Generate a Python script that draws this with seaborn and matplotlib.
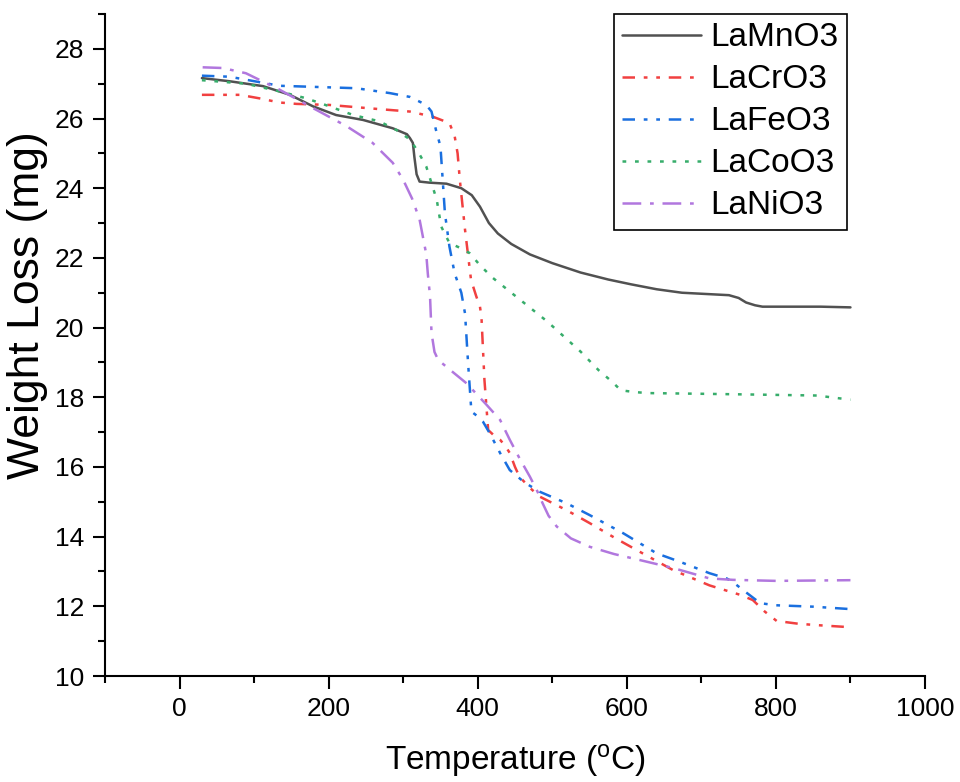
import matplotlib
matplotlib.use("Agg")
import matplotlib.pyplot as plt
from matplotlib.ticker import MultipleLocator
import seaborn as sns
import pandas as pd

# ---- data ----
series_names = ["LaMnO3", "LaCrO3", "LaFeO3", "LaCoO3", "LaNiO3"]

mn_x = [30, 67, 112, 148, 179, 210, 246, 286, 305, 309, 313, 315, 318, 322, 335, 358, 378, 392, 403,
        415, 427, 445, 470, 500, 538, 575, 606, 640, 674, 710, 737, 750, 760, 772, 782, 820, 860, 900]
mn_y = [27.16, 27.07, 26.93, 26.68, 26.35, 26.10, 25.96, 25.72, 25.55, 25.44, 25.3, 24.9, 24.4, 24.19,
        24.16, 24.13, 24.0, 23.8, 23.47, 23.0, 22.7, 22.4, 22.1, 21.85, 21.58, 21.38, 21.24, 21.1, 21.0,
        20.96, 20.93, 20.85, 20.72, 20.64, 20.6, 20.6, 20.6, 20.58]

cr_x = [30, 81, 107, 134, 157, 201, 268, 309, 340, 362, 369, 373, 376, 383, 391, 398, 403, 405, 409,
        414, 422, 430, 437, 443, 450, 456, 470, 483, 520, 550, 585, 617, 662, 711, 752, 769, 785, 801,
        830, 855, 900]
cr_y = [26.68, 26.68, 26.58, 26.46, 26.42, 26.39, 26.27, 26.2, 26.05, 25.87, 25.5, 25.0, 24.24, 22.8,
        21.37, 20.9, 20.6, 20.3, 18.5, 17.06, 16.9, 16.78, 16.6, 16.4, 16.0, 15.72, 15.4, 15.15, 14.75,
        14.39, 13.95, 13.57, 13.04, 12.6, 12.33, 12.18, 11.85, 11.58, 11.5, 11.46, 11.4]

fe_x = [30, 67, 134, 237, 282, 309, 331, 338, 344, 350, 353, 356, 362, 369, 378, 383, 387, 391.5,
        400, 407, 416, 430, 443, 463, 483, 520, 550, 595, 640, 671, 711, 734, 742, 760, 779, 800, 850, 900]
fe_y = [27.23, 27.2, 26.94, 26.87, 26.73, 26.62, 26.39, 26.2, 25.67, 25.2, 24.24, 23.28, 22.33, 21.56,
        21.0, 20.4, 19.0, 17.59, 17.45, 17.3, 16.97, 16.4, 15.91, 15.55, 15.29, 14.95, 14.62, 14.1, 13.52,
        13.28, 12.95, 12.8, 12.7, 12.4, 12.09, 12.03, 11.99, 11.92]

co_x = [30, 89, 134, 170, 201, 233, 268, 291, 309, 320, 331, 345, 351, 362, 375, 389, 403, 420, 448,
        493, 538, 562, 580, 592, 610, 628, 700, 764, 855, 900]
co_y = [27.1, 27.0, 26.78, 26.58, 26.35, 26.1, 25.92, 25.67, 25.4, 25.05, 24.62, 23.67, 22.9, 22.43,
        22.3, 22.14, 21.79, 21.43, 20.95, 20.18, 19.31, 18.78, 18.45, 18.2, 18.15, 18.12, 18.1, 18.08,
        18.05, 17.93]

ni_x = [31, 58, 89, 134, 179, 224, 259, 286, 300, 312, 322, 331, 333, 336, 338, 342, 347, 365, 385,
        412, 430, 443, 456, 470, 480, 487, 495, 506, 525, 550, 583, 617, 662, 711, 742, 800, 850, 900]
ni_y = [27.47, 27.45, 27.3, 26.83, 26.3, 25.78, 25.3, 24.73, 24.24, 23.7, 23.1, 22.1, 21.56, 20.9,
        19.85, 19.3, 19.07, 18.75, 18.4, 17.78, 17.35, 16.78, 16.25, 15.72, 15.3, 14.96, 14.6, 14.29,
        13.95, 13.71, 13.5, 13.33, 13.1, 12.8, 12.76, 12.73, 12.74, 12.75]

x_ticks = [0, 200, 400, 600, 800, 1000]
y_ticks = [10, 12, 14, 16, 18, 20, 22, 24, 26, 28]

xs = [mn_x, cr_x, fe_x, co_x, ni_x]
ys = [mn_y, cr_y, fe_y, co_y, ni_y]

colors = ["#515151", "#F14040", "#1A6FDF", "#37AD6B", "#B177DE"]
styles = ["-",
          (0, (5, 3.5, 1.5, 3.5, 1.5, 3.5)),
          (0, (5, 3.5, 1.5, 3.5, 1.5, 3.5)),
          (0, (1.5, 3.5)),
          (0, (7.5, 3.5, 1.5, 3.5))]

# ---- styling ----
sns.set_theme(style="ticks")
plt.rcParams["font.family"] = ["Liberation Sans", "DejaVu Sans"]
plt.rcParams["mathtext.fontset"] = "custom"
plt.rcParams["mathtext.rm"] = "Liberation Sans"
plt.rcParams["mathtext.it"] = "Liberation Sans:italic"
plt.rcParams["text.color"] = "black"
plt.rcParams["axes.labelcolor"] = "black"
plt.rcParams["xtick.color"] = "black"
plt.rcParams["ytick.color"] = "black"

fig = plt.figure(figsize=(9.6, 7.82), dpi=100)
ax = fig.add_axes([105 / 960, 106 / 782, 820 / 960, 662 / 782])

for name, x, y, c, ls in zip(series_names, xs, ys, colors, styles):
    df = pd.DataFrame({"Temperature": x, "Weight": y})
    sns.lineplot(data=df, x="Temperature", y="Weight", ax=ax, color=c, linestyle=ls,
                 linewidth=1.8, label=name, estimator=None, sort=False)

ax.set_xlim(-100, 1000)
ax.set_ylim(10, 29)
ax.set_xticks(x_ticks)
ax.set_yticks(y_ticks)
ax.xaxis.set_minor_locator(MultipleLocator(100))
ax.yaxis.set_minor_locator(MultipleLocator(1))

for side in ["top", "right"]:
    ax.spines[side].set_visible(False)
for side in ["left", "bottom"]:
    ax.spines[side].set_linewidth(1.5)
    ax.spines[side].set_color("black")

ax.tick_params(which="major", direction="out", length=9, width=1.5, colors="black",
               labelsize=19, pad=6)
ax.tick_params(which="minor", direction="out", length=5, width=1.5, colors="black")

ax.set_xlabel("Temperature ($^{\\mathrm{o}}$C)", fontsize=24, color="black")
ax.set_ylabel("Weight Loss (mg)", fontsize=32, color="black")
ax.xaxis.set_label_coords(0.5, -0.1)
ax.yaxis.set_label_coords(-0.07, 0.56)

leg = ax.legend(loc="upper right", bbox_to_anchor=(0.905, 1.0), borderaxespad=0,
                fontsize=24, frameon=True, fancybox=False, framealpha=1,
                handlelength=2.35, handletextpad=0.3, labelspacing=0.33, borderpad=0.25)
leg.get_frame().set_edgecolor("black")
leg.get_frame().set_linewidth(1.2)
for t in leg.get_texts():
    t.set_color("black")

fig.savefig("out.png", dpi=100)
